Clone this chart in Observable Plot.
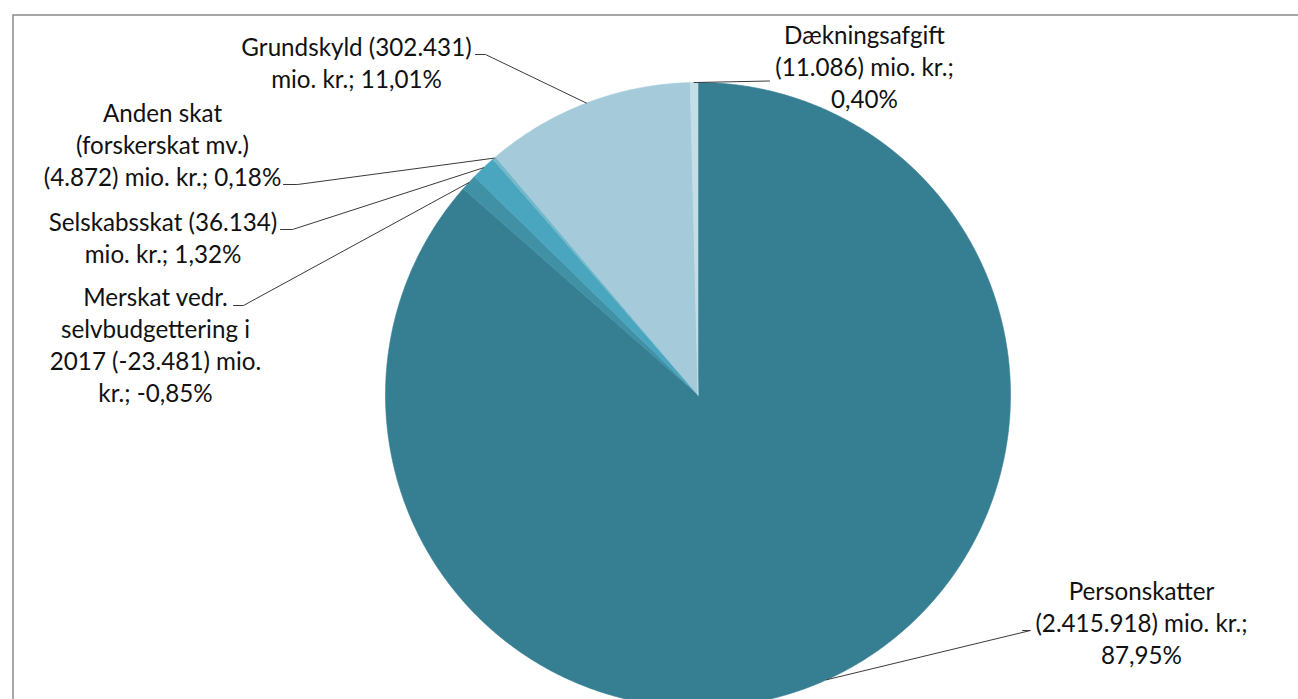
<!DOCTYPE html>
<html><head><meta charset="utf-8">
<script src="https://cdn.jsdelivr.net/npm/d3@7"></script>
<script src="https://cdn.jsdelivr.net/npm/@observablehq/plot@0.6"></script>
<style>html,body{margin:0;padding:0;background:#fff;overflow:hidden}</style>
</head><body><div id="chart"></div>
<script>
// ---- data ----
const categories = ["Personskatter", "Merskat vedr. selvbudgettering i 2017", "Selskabsskat", "Anden skat (forskerskat mv.)", "Grundskyld", "Dækningsafgift"];
const values = [2415918, -23481, 36134, 4872, 302431, 11086];
const percents = ["87,95%", "-0,85%", "1,32%", "0,18%", "11,01%", "0,40%"];
const labelLines = [
  ["Personskatter", "(2.415.918) mio. kr.;", "87,95%"],
  ["Merskat vedr.", "selvbudgettering i", "2017 (-23.481) mio.", "kr.; -0,85%"],
  ["Selskabsskat (36.134)", "mio. kr.; 1,32%"],
  ["Anden skat", "(forskerskat mv.)", "(4.872) mio. kr.; 0,18%"],
  ["Grundskyld (302.431)", "mio. kr.; 11,01%"],
  ["Dækningsafgift", "(11.086) mio. kr.;", "0,40%"]
];
const colors = ["#367E92", "#4191A6", "#4AA6BF", "#72B8CB", "#A5CBDA", "#C3DEE7"];

// ---- layout (pixels) ----
const W = 1298, H = 699;
const PCX = 697.5, PCY = 394.5, PR = 312.5;
const lineStep = 32;
const labelLayout = [
  {x: 1141, y: 599, edge: [1022, 630], elbow: [1030, 630]},
  {x: 155, y: 305, edge: [233, 305], elbow: [243, 305]},
  {x: 162.5, y: 230, edge: [280, 229], elbow: [292, 229]},
  {x: 162, y: 121, edge: [283, 184], elbow: [297, 184]},
  {x: 356, y: 55, edge: [475, 54], elbow: [485, 54]},
  {x: 864, y: 43, edge: [769, 80.5], elbow: null}
];
const ux = px => (px - PCX) / PR;
const uy = py => (PCY - py) / PR;

const data = categories.map((c, i) => ({name: c, value: values[i], pct: percents[i], color: colors[i], lines: labelLines[i]}));
const arcs = d3.pie().sort(null).value(d => Math.abs(d.value))(data);

const marks = [];
// slices
arcs.forEach(a => {
  const pts = [{x: 0, y: 0}];
  const n = Math.max(2, Math.ceil((a.endAngle - a.startAngle) / (Math.PI / 720)));
  for (let k = 0; k <= n; k++) {
    const t = a.startAngle + (a.endAngle - a.startAngle) * k / n;
    pts.push({x: Math.sin(t), y: Math.cos(t)});
  }
  pts.push({x: 0, y: 0});
  marks.push(Plot.line(pts, {x: "x", y: "y", fill: a.data.color, stroke: a.data.color, strokeWidth: 0.6, curve: "linear"}));
});
// leader lines
arcs.forEach((a, i) => {
  const L = labelLayout[i];
  const mid = (a.startAngle + a.endAngle) / 2;
  const pts = [{x: Math.sin(mid), y: Math.cos(mid)}];
  if (L.elbow) pts.push({x: ux(L.elbow[0]), y: uy(L.elbow[1])});
  pts.push({x: ux(L.edge[0]), y: uy(L.edge[1])});
  marks.push(Plot.line(pts, {x: "x", y: "y", stroke: "#3a3a3a", strokeWidth: 1}));
});
// labels
const textRows = [];
data.forEach((d, i) => {
  const L = labelLayout[i];
  d.lines.forEach((t, j) => textRows.push({text: t, x: ux(L.x), y: uy(L.y + j * lineStep)}));
});
marks.push(Plot.text(textRows, {x: "x", y: "y", text: "text", textAnchor: "middle", lineAnchor: "bottom",
  fontSize: 24.2, fontFamily: "Lato, 'Open Sans', sans-serif", fill: "#111111"}));
// chart-area border
marks.push(Plot.frame({stroke: "#8a8a8a", strokeWidth: 1.5, insetLeft: 12.5, insetTop: 14.5, insetRight: -10, insetBottom: -10}));

const chart = Plot.plot({
  width: W, height: H,
  marginLeft: 0, marginRight: 0, marginTop: 0, marginBottom: 0,
  x: {domain: [ux(0), ux(W)], axis: null},
  y: {domain: [uy(H), uy(0)], axis: null},
  style: {background: "#fff", overflow: "hidden"},
  marks
});
document.getElementById("chart").appendChild(chart);
</script>
</body></html>
